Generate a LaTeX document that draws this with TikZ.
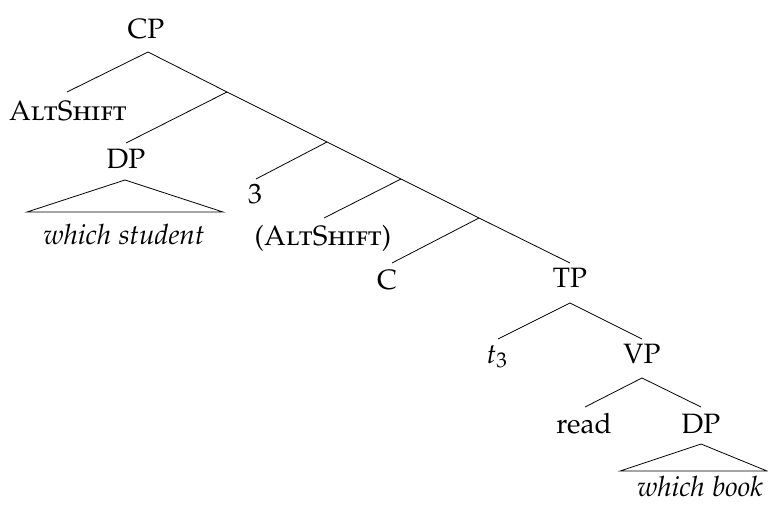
\documentclass[tikz,border=0pt]{standalone}
\usepackage[T1]{fontenc}
\usepackage[sc]{mathpazo}
\begin{document}
\begin{tikzpicture}[x=1pt,y=-1pt,
  lbl/.style={inner sep=0pt, anchor=base, font=\fontsize{28}{32}\selectfont},
  edge/.style={line width=0.8pt}]
\useasboundingbox (0,0) rectangle (768,505);
% labels
\node[lbl] (cp) at (146,39) {CP};
\node[lbl] (alt1) at (68,121) {\textsc{AltShift}};
\node[lbl] (dp1) at (126,169) {DP};
\node[lbl] (ws) at (124,244) {\itshape which student};
\node[lbl] (three) at (255,204) {3};
\node[lbl] (alt2) at (323,245) {(\textsc{AltShift})};
\node[lbl] (c) at (387,289) {C};
\node[lbl] (tp) at (570,287) {TP};
\node[lbl] (t3) at (497,363) {$t_3$};
\node[lbl] (vp) at (642,363) {VP};
\node[lbl] (read) at (584,433) {read};
\node[lbl] (dp2) at (701,433) {DP};
\node[lbl] (wb) at (700,496) {\itshape which book};
% branching points
\coordinate (cpb) at (148,52);
\coordinate (altt) at (67,92);
\coordinate (b1) at (227,92);
\coordinate (b2) at (327,142);
\coordinate (b3) at (401,179);
\coordinate (b4) at (479,218);
\coordinate (tpt) at (570,263);
\coordinate (dp1t) at (126,143);
\coordinate (tri1a) at (125,180);
\coordinate (tri1l) at (27,212);
\coordinate (tri1r) at (223,212);
\coordinate (threet) at (256,179);
\coordinate (alt2t) at (324,218);
\coordinate (ct) at (392,263);
\coordinate (tpb) at (570,303);
\coordinate (t3t) at (498,339);
\coordinate (vpt) at (642,339);
\coordinate (vpb) at (642,378);
\coordinate (readt) at (585,407);
\coordinate (dp2t) at (701,407);
\coordinate (tri2a) at (701,444);
\coordinate (tri2l) at (620,471);
\coordinate (tri2r) at (767,471);
% edges
\draw[edge] (altt) -- (cpb) -- (b1) -- (b2) -- (b3) -- (b4) -- (tpt);
\draw[edge] (b1) -- (dp1t);
\draw[edge] (b2) -- (threet);
\draw[edge] (b3) -- (alt2t);
\draw[edge] (b4) -- (ct);
\draw[edge] (tri1a) -- (tri1l) -- (tri1r) -- cycle;
\draw[edge] (t3t) -- (tpb) -- (vpt);
\draw[edge] (readt) -- (vpb) -- (dp2t);
\draw[edge] (tri2a) -- (tri2l) -- (tri2r) -- cycle;
\end{tikzpicture}
\end{document}
